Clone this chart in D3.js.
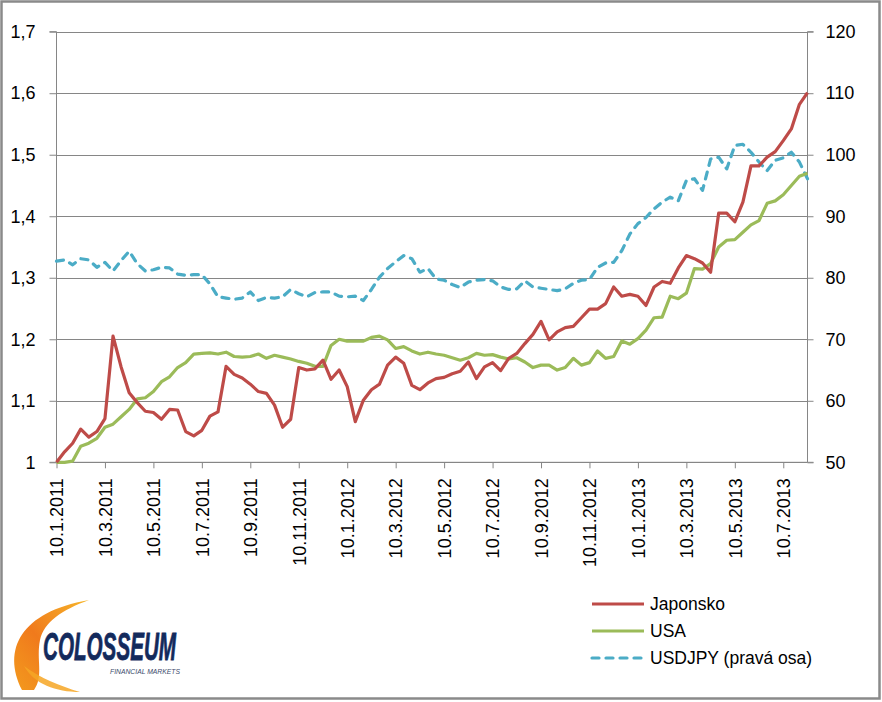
<!DOCTYPE html>
<html>
<head>
<meta charset="utf-8">
<script src="https://cdn.jsdelivr.net/npm/d3@7"></script>
<style>
  html, body { margin: 0; padding: 0; background: #fff; }
  svg { display: block; }
  text { font-family: "Liberation Sans", Arial, sans-serif; }
</style>
</head>
<body>
<div id="chart"></div>
<script>
// ---- data ----
const tickLabels = ["10.1.2011","10.3.2011","10.5.2011","10.7.2011","10.9.2011","10.11.2011",
  "10.1.2012","10.3.2012","10.5.2012","10.7.2012","10.9.2012","10.11.2012",
  "10.1.2013","10.3.2013","10.5.2013","10.7.2013"];
const tickStep = 6; // one tick label every 6 observations

const japonsko = [1.000,1.017,1.031,1.054,1.041,1.050,1.071,1.205,1.155,1.113,
  1.097,1.083,1.081,1.070,1.086,1.085,1.050,1.043,1.052,1.075,
  1.082,1.156,1.143,1.137,1.127,1.115,1.112,1.093,1.057,1.070,
  1.154,1.150,1.152,1.166,1.135,1.150,1.123,1.066,1.101,1.118,
  1.127,1.158,1.171,1.161,1.125,1.118,1.129,1.136,1.138,1.144,
  1.148,1.163,1.136,1.155,1.162,1.149,1.169,1.177,1.193,1.208,
  1.229,1.199,1.212,1.219,1.221,1.235,1.249,1.249,1.258,1.285,
  1.270,1.273,1.270,1.255,1.285,1.294,1.291,1.316,1.336,1.331,
  1.324,1.309,1.405,1.405,1.391,1.423,1.482,1.482,1.496,1.505,
  1.523,1.542,1.582,1.601];

const usa = [1.000,1.000,1.002,1.026,1.031,1.039,1.057,1.062,1.074,1.086,
  1.103,1.105,1.115,1.131,1.139,1.154,1.162,1.176,1.177,1.178,
  1.176,1.179,1.172,1.171,1.172,1.176,1.169,1.174,1.171,1.168,
  1.164,1.161,1.156,1.156,1.190,1.200,1.197,1.197,1.197,1.203,
  1.205,1.199,1.185,1.188,1.181,1.176,1.179,1.176,1.174,1.170,
  1.166,1.170,1.177,1.174,1.175,1.171,1.168,1.170,1.163,1.154,
  1.158,1.158,1.150,1.154,1.169,1.158,1.162,1.181,1.169,1.172,
  1.197,1.192,1.201,1.215,1.235,1.236,1.270,1.266,1.275,1.315,
  1.314,1.323,1.350,1.361,1.362,1.374,1.386,1.393,1.421,1.425,
  1.435,1.450,1.465,1.470];

const usdjpy = [82.7,82.9,82.1,83.1,82.9,81.7,82.5,81.1,82.8,84.3,
  82.3,81.1,81.3,81.7,81.6,80.6,80.4,80.5,80.5,79.0,
  76.9,76.7,76.5,76.7,77.7,76.3,76.8,76.7,76.9,78.1,
  77.4,76.9,77.6,77.7,77.7,77.0,76.9,77.0,76.3,78.1,
  80.1,81.5,82.6,83.6,83.1,80.9,81.5,79.8,79.6,78.9,
  78.4,79.3,79.6,79.7,79.5,78.5,78.1,78.2,79.5,78.5,
  78.3,78.1,77.9,78.2,79.1,79.6,79.7,81.7,82.4,82.5,
  84.4,87.1,88.8,89.8,91.2,92.3,93.1,92.5,95.8,96.1,
  94.2,99.3,99.6,97.7,101.5,101.7,100.4,98.8,97.4,99.1,
  99.5,100.4,98.8,96.1];

const leftTicks = [1, 1.1, 1.2, 1.3, 1.4, 1.5, 1.6, 1.7];
const rightTicks = [50, 60, 70, 80, 90, 100, 110, 120];
const seriesNames = ["Japonsko", "USA", "USDJPY (pravá osa)"];

// ---- layout ----
const W = 882, H = 702;
const plot = { left: 56.5, right: 807.5, top: 31.7, bottom: 462.3 };
const gridColor = "#868686";
const colors = { jp: "#BE4B48", us: "#9BBB59", fx: "#4BACC6" };

const svg = d3.select("#chart").append("svg").attr("width", W).attr("height", H);
svg.append("rect").attr("x", 0).attr("y", 0).attr("width", W).attr("height", H).attr("fill", "#fff");
svg.append("rect").attr("x", 1.5).attr("y", 1.5).attr("width", 878).attr("height", 697)
  .attr("fill", "none").attr("stroke", "#8a8a8a").attr("stroke-width", 2.5);

const x = d3.scaleLinear().domain([0, japonsko.length - 1]).range([plot.left, plot.right]);
const yL = d3.scaleLinear().domain([1, 1.7]).range([plot.bottom, plot.top]);
const yR = d3.scaleLinear().domain([50, 120]).range([plot.bottom, plot.top]);

const fmtL = v => d3.format(".1f")(v).replace(".", ",").replace(/,0$/, "");

// gridlines
svg.append("g").selectAll("line").data(leftTicks).join("line")
  .attr("x1", plot.left).attr("x2", plot.right)
  .attr("y1", d => Math.round(yL(d)) + 0.5).attr("y2", d => Math.round(yL(d)) + 0.5)
  .attr("stroke", gridColor).attr("stroke-width", 1);

// left axis
const gL = svg.append("g").attr("transform", `translate(${plot.left},0)`)
  .call(d3.axisLeft(yL).tickValues(leftTicks).tickFormat(fmtL).tickSize(7).tickPadding(14));
// right axis
const gR = svg.append("g").attr("transform", `translate(${plot.right},0)`)
  .call(d3.axisRight(yR).tickValues(rightTicks).tickSize(6).tickPadding(12));
// bottom axis
const xTickIdx = tickLabels.map((_, i) => i * tickStep);
const gB = svg.append("g").attr("transform", `translate(0,${plot.bottom})`)
  .call(d3.axisBottom(x).tickValues(xTickIdx).tickFormat((d, i) => tickLabels[i]).tickSize(6).tickSizeOuter(0));

[gL, gR, gB].forEach(g => {
  g.select(".domain").attr("stroke", gridColor).attr("stroke-width", 1);
  g.selectAll(".tick line").attr("stroke", gridColor).attr("stroke-width", 1);
  g.selectAll("text").attr("fill", "#000").style("font-size", "18px")
    .style("font-family", '"Liberation Sans", Arial, sans-serif');
});
gL.select(".domain").attr("d", `M-7,${plot.bottom}H0V${plot.top}H-7`);
gR.select(".domain").attr("d", `M6,${plot.bottom}H0V${plot.top}H6`);
gB.select(".domain").attr("d", `M${plot.left},0H${plot.right}`);
gB.selectAll(".tick text")
  .attr("transform", "rotate(-90)")
  .attr("text-anchor", "end")
  .attr("x", -16).attr("y", 0).attr("dy", "0.35em");

// lines
const lineL = d3.line().x((d, i) => x(i)).y(d => yL(d));
const lineR = d3.line().x((d, i) => x(i)).y(d => yR(d));

svg.append("path").datum(usdjpy).attr("d", lineR).attr("fill", "none")
  .attr("stroke", colors.fx).attr("stroke-width", 3.2)
  .attr("stroke-dasharray", "7,7").attr("stroke-linecap", "round").attr("stroke-linejoin", "round");
svg.append("path").datum(usa).attr("d", lineL).attr("fill", "none")
  .attr("stroke", colors.us).attr("stroke-width", 3.2).attr("stroke-linejoin", "round");
svg.append("path").datum(japonsko).attr("d", lineL).attr("fill", "none")
  .attr("stroke", colors.jp).attr("stroke-width", 3.2).attr("stroke-linejoin", "round");

// legend
const legend = svg.append("g");
const legItems = [
  { name: seriesNames[0], color: colors.jp, dash: null, y: 604 },
  { name: seriesNames[1], color: colors.us, dash: null, y: 631 },
  { name: seriesNames[2], color: colors.fx, dash: "7,7", y: 658 }
];
legItems.forEach(it => {
  const l = legend.append("line").attr("x1", 592).attr("x2", 644).attr("y1", it.y).attr("y2", it.y)
    .attr("stroke", it.color).attr("stroke-width", 3.2);
  if (it.dash) l.attr("stroke-dasharray", it.dash).attr("stroke-linecap", "round");
  legend.append("text").attr("x", 650).attr("y", it.y).attr("dy", "0.35em")
    .style("font-size", "17.5px").attr("fill", "#000").text(it.name);
});

// logo
const logo = svg.append("g");
const defs = svg.append("defs");
const grad = defs.append("linearGradient").attr("id", "og").attr("x1", "0").attr("y1", "1").attr("x2", "1").attr("y2", "0");
grad.append("stop").attr("offset", "0").attr("stop-color", "#f39a1e");
grad.append("stop").attr("offset", "0.45").attr("stop-color", "#f07a1c");
grad.append("stop").attr("offset", "1").attr("stop-color", "#f7b62a");
logo.append("path")
  .attr("d", "M22,690 C2,650 20,612 89,600 C62,610 44,622 40,640 C36,660 44,676 34,690 Z")
  .attr("fill", "url(#og)");
logo.append("path")
  .attr("d", "M24,666 C34,684 56,692 80,692 C60,686 40,678 24,666 Z")
  .attr("fill", "#f6a624").attr("opacity", 0.85);
logo.append("text").attr("x", 43).attr("y", 660)
  .attr("textLength", 133).attr("lengthAdjust", "spacingAndGlyphs")
  .style("font-size", "38px").style("font-weight", "bold").style("font-style", "italic")
  .attr("fill", "#132a5c").attr("stroke", "#132a5c").attr("stroke-width", 0.8).text("COLOSSEUM");
logo.append("text").attr("x", 110).attr("y", 674)
  .attr("textLength", 70).attr("lengthAdjust", "spacingAndGlyphs")
  .style("font-size", "7.5px").style("font-style", "italic")
  .attr("fill", "#3b4a6b").text("FINANCIAL MARKETS");
</script>
</body>
</html>
